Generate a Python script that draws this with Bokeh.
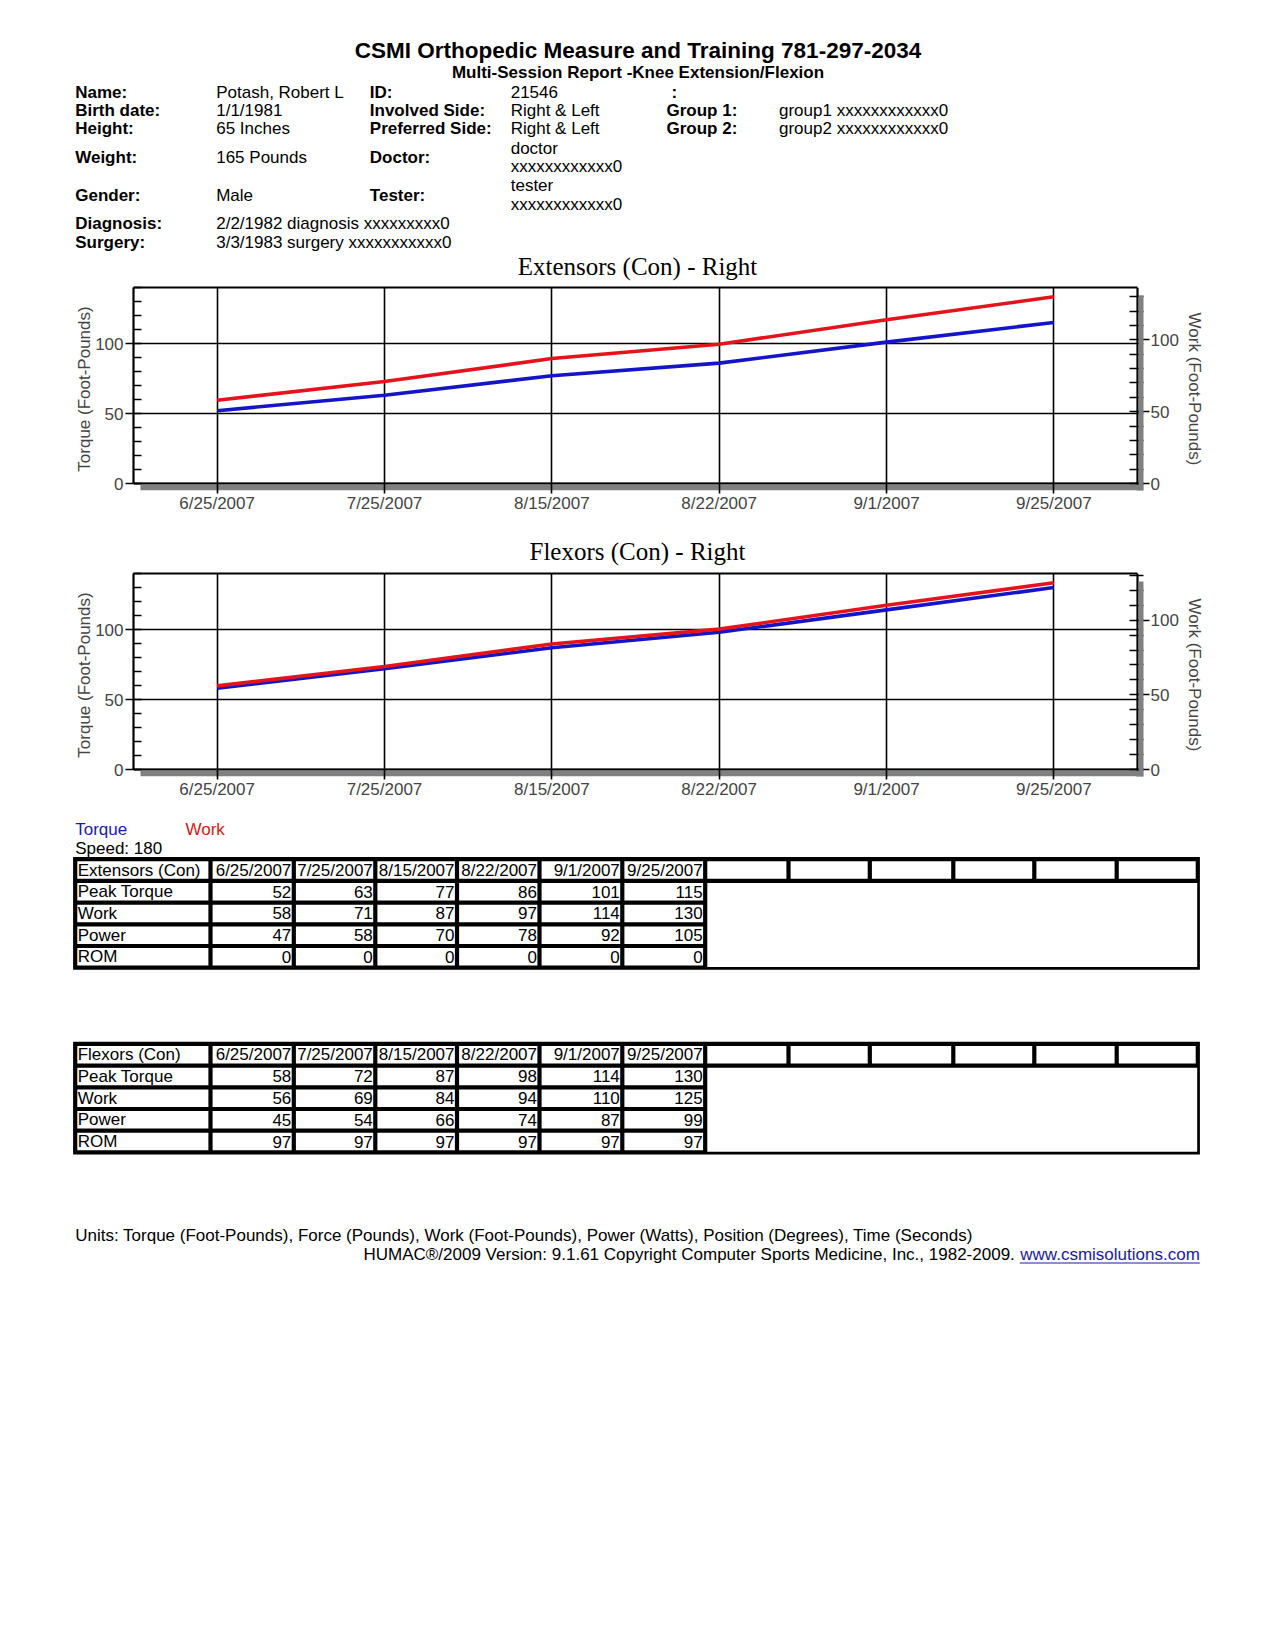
from bokeh.plotting import figure
from bokeh.models import Range1d, LinearAxis, SingleIntervalTicker, FixedTicker, Span
from bokeh.layouts import column
from bokeh.embed import file_html
from bokeh.resources import INLINE
from bokeh.core.properties import value

# ---------------- data ----------------
dates = ["6/25/2007", "7/25/2007", "8/15/2007", "8/22/2007", "9/1/2007", "9/25/2007"]
row_names = ["Peak Torque", "Work", "Power", "ROM"]

ext_peak_torque = [52, 63, 77, 86, 101, 115]
ext_work = [58, 71, 87, 97, 114, 130]
ext_power = [47, 58, 70, 78, 92, 105]
ext_rom = [0, 0, 0, 0, 0, 0]

flex_peak_torque = [58, 72, 87, 98, 114, 130]
flex_work = [56, 69, 84, 94, 110, 125]
flex_power = [45, 54, 66, 74, 87, 99]
flex_rom = [97, 97, 97, 97, 97, 97]

torque_axis_max = 140
ext_work_axis_max = 136.5
flex_work_axis_max = 131.25

# ---------------- style ----------------
W = 1259
SANS = "Liberation Sans"
SERIF = "Liberation Serif"
RED = "#e3141c"
BLUE = "#1414c8"
FS = "17px"

PW, PH = 1004, 196      # plot area (inside the axes) in px
SHX, SHY = 6, 7         # drop-shadow size in px
FW, FH = PW + SHX, PH + SHY


def make_chart(torque, work, work_max, height, top_border, bottom_border):
    n = len(dates)
    xs = list(range(n))
    x0, x1 = -0.5, n - 0.5
    xpx = (x1 - x0) / PW
    ypx = torque_axis_max / PH
    wpx = work_max / PH

    p = figure(width=W, height=height,
               x_range=Range1d(x0, x1 + SHX * xpx),
               y_range=Range1d(-SHY * ypx, torque_axis_max),
               toolbar_location=None, output_backend="svg",
               min_border_left=133, min_border_right=W - 133 - FW,
               min_border_top=top_border, min_border_bottom=bottom_border,
               frame_align=False)
    p.background_fill_color = "white"
    p.border_fill_color = "white"
    p.outline_line_color = None
    p.extra_y_ranges = {"work": Range1d(-SHY * wpx, work_max)}

    xticker = FixedTicker(ticks=xs)
    lt = SingleIntervalTicker(interval=50, num_minor_ticks=5)

    # x axis (its ticks start at y = 0 and cross the shadow)
    xa = p.xaxis[0]
    xa.ticker = xticker
    xa.major_label_overrides = {i: d for i, d in zip(xs, dates)}
    xa.axis_line_color = None
    xa.major_tick_in = SHY
    xa.major_tick_out = 3
    xa.minor_tick_line_color = None
    xa.major_tick_line_width = 1.6
    xa.major_label_text_font = SANS
    xa.major_label_text_font_size = FS
    xa.major_label_standoff = 0

    # left axis
    ya = p.yaxis[0]
    ya.ticker = lt
    ya.bounds = (0, torque_axis_max)
    ya.axis_label = "Torque (Foot-Pounds)"
    ya.axis_label_text_font = SANS
    ya.axis_label_text_font_size = FS
    ya.axis_label_text_font_style = "normal"
    ya.axis_label_standoff = -2
    ya.axis_line_width = 2.2
    ya.major_tick_out = 8
    ya.major_tick_in = 0
    ya.minor_tick_in = 8
    ya.minor_tick_out = 0
    ya.major_tick_line_width = 1.6
    ya.minor_tick_line_width = 1.6
    ya.major_label_text_font = SANS
    ya.major_label_text_font_size = FS
    ya.major_label_standoff = 2

    # right axis (ticks measured from the plot-area edge, shadow in between)
    ra = LinearAxis(y_range_name="work", ticker=SingleIntervalTicker(interval=50, num_minor_ticks=5))
    ra.bounds = (0, work_max)
    ra.axis_label = "Work (Foot-Pounds)"
    ra.axis_label_text_font = SANS
    ra.axis_label_text_font_size = FS
    ra.axis_label_text_font_style = "normal"
    ra.axis_label_standoff = 3
    ra.axis_line_color = None
    ra.major_tick_out = 6
    ra.major_tick_in = SHX
    ra.minor_tick_in = 8 + SHX
    ra.minor_tick_out = 0
    ra.major_tick_line_width = 1.6
    ra.minor_tick_line_width = 1.6
    ra.major_label_text_font = SANS
    ra.major_label_text_font_size = FS
    ra.major_label_standoff = 1
    p.add_layout(ra, "right")

    # top border line
    ta = LinearAxis(ticker=FixedTicker(ticks=[]), bounds=(x0, x1))
    ta.axis_line_width = 2.2
    ta.major_tick_out = 0
    ta.major_tick_in = 0
    ta.minor_tick_out = 0
    ta.minor_tick_in = 0
    ta.major_tick_line_color = None
    ta.minor_tick_line_color = None
    ta.major_label_standoff = 0
    ta.major_label_text_font_size = "0px"
    p.add_layout(ta, "above")

    # grids
    p.xgrid.ticker = xticker
    p.xgrid.grid_line_color = "black"
    p.xgrid.grid_line_width = 1.6
    p.ygrid.ticker = lt
    p.ygrid.grid_line_color = "black"
    p.ygrid.grid_line_width = 1.6

    # axis lines at y = 0 and at the right end of the plot area
    p.add_layout(Span(location=0, dimension="width", line_color="black", line_width=2.2, level="underlay"))
    p.add_layout(Span(location=x1, dimension="height", line_color="black", line_width=2.2, level="underlay"))

    # drop shadow of the axes
    xr_end = x1 + SHX * xpx
    yb = -SHY * ypx
    p.quad(left=[x0 + 7 * xpx], right=[xr_end], top=[-1.1 * ypx], bottom=[yb],
           fill_color="#808080", line_color=None)
    sr = p.quad(left=[x1 + 1.1 * xpx], right=[xr_end], top=[torque_axis_max - 8 * ypx], bottom=[yb],
                fill_color="#808080", line_color=None)
    sr.level = "overlay"

    p.line(x=xs, y=torque, line_color=BLUE, line_width=3.6)
    p.line(x=xs, y=work, y_range_name="work", line_color=RED, line_width=3.6)
    return p


def canvas(height):
    p = figure(width=W, height=height, x_range=Range1d(0, W), y_range=Range1d(height, 0),
               toolbar_location=None, output_backend="svg", min_border=0,
               x_axis_type=None, y_axis_type=None, frame_align=False)
    p.outline_line_color = None
    p.background_fill_color = "white"
    p.border_fill_color = "white"
    return p


def txt(p, oy, x, y, s, size=FS, bold=False, color="black", align="left", font=SANS):
    p.text(x=[x], y=[y - oy], text=[s], text_font=value(font), text_font_size=size,
           text_font_style="bold" if bold else "normal", text_color=color,
           text_align=align, text_baseline="middle")


# ---------------- header (page y 0..283) ----------------
HY = 0
header = canvas(283)
txt(header, HY, 637.5, 50.0, "CSMI Orthopedic Measure and Training 781-297-2034", size="22.5px", bold=True, align="center")
txt(header, HY, 637.5, 72.0, "Multi-Session Report -Knee Extension/Flexion", size="17px", bold=True, align="center")

c1, c2, c3, c4, c5, c6 = 74.7, 215.7, 369.3, 510.2, 666.0, 778.5
info = [
    (c1, 91.5, "Name:", True), (c2, 91.5, "Potash, Robert L", False),
    (c3, 91.5, "ID:", True), (c4, 91.5, "21546", False), (671.0, 91.5, ":", True),
    (c1, 109.5, "Birth date:", True), (c2, 109.5, "1/1/1981", False),
    (c3, 109.5, "Involved Side:", True), (c4, 109.5, "Right & Left", False),
    (c5, 109.5, "Group 1:", True), (c6, 109.5, "group1 xxxxxxxxxxxx0", False),
    (c1, 128.3, "Height:", True), (c2, 128.3, "65 Inches", False),
    (c3, 128.3, "Preferred Side:", True), (c4, 128.3, "Right & Left", False),
    (c5, 128.3, "Group 2:", True), (c6, 128.3, "group2 xxxxxxxxxxxx0", False),
    (c1, 156.7, "Weight:", True), (c2, 156.7, "165 Pounds", False),
    (c3, 156.7, "Doctor:", True), (c4, 147.5, "doctor", False), (c4, 166.3, "xxxxxxxxxxxx0", False),
    (c1, 194.6, "Gender:", True), (c2, 194.6, "Male", False),
    (c3, 194.6, "Tester:", True), (c4, 185.0, "tester", False), (c4, 204.0, "xxxxxxxxxxxx0", False),
    (c1, 223.0, "Diagnosis:", True), (c2, 223.0, "2/2/1982 diagnosis xxxxxxxxx0", False),
    (c1, 241.5, "Surgery:", True), (c2, 241.5, "3/3/1983 surgery xxxxxxxxxxx0", False),
]
for x, y, s, b in info:
    txt(header, HY, x, y, s, bold=b)

txt(header, HY, 637.0, 266.0, "Extensors (Con) - Right", size="25px", font=SERIF, align="center")

# ---------------- chart 1 (page y 283..530) ----------------
chart1 = make_chart(ext_peak_torque, ext_work, ext_work_axis_max,
                    height=247, top_border=4, bottom_border=247 - 4 - FH)

# ---------------- title of chart 2 (page y 530..569) ----------------
MY = 530
mid = canvas(39)
txt(mid, MY, 637.0, 551.0, "Flexors (Con) - Right", size="25px", font=SERIF, align="center")

# ---------------- chart 2 (page y 569..808) ----------------
chart2 = make_chart(flex_peak_torque, flex_work, flex_work_axis_max,
                    height=239, top_border=4, bottom_border=239 - 4 - FH)

# ---------------- bottom: legend, tables, footer (page y 808..1300) ----------------
BY = 808
bottom = canvas(492)
txt(bottom, BY, 74.7, 829, "Torque", color="#1c1ca8")
txt(bottom, BY, 185.0, 829, "Work", color="#d01818")
txt(bottom, BY, 74.7, 848, "Speed: 180")

col_edges = [74.7, 210.0, 293.3, 374.8, 456.5, 539.0, 621.8, 704.7]
empty_edges = [704.7, 788.0, 869.3, 952.8, 1033.8, 1116.2, 1197.3]


def draw_table(p, oy, top, title, rows):
    pitch = 21.7
    redges = [top + i * pitch for i in range(6)]
    bot = redges[-1]
    h = 2.1
    L, R, T, B = [], [], [], []

    def box(l, r, t, b):
        L.append(l); R.append(r); T.append(t - oy); B.append(b - oy)

    p.quad(left=[col_edges[0] - h], right=[empty_edges[-1] + h],
           top=[top - h - oy], bottom=[bot + h - oy], fill_color="black", line_color=None)
    for r in range(5):
        for c in range(7):
            box(col_edges[c] + h, col_edges[c + 1] - h, redges[r] + h, redges[r + 1] - h)
    for c in range(6):
        box(empty_edges[c] + h, empty_edges[c + 1] - h, redges[0] + h, redges[1] - h)
    box(empty_edges[0] + h, empty_edges[-1] - 0.6, redges[1] + h, bot - 0.6)
    p.quad(left=L, right=R, top=T, bottom=B, fill_color="white", line_color=None)

    header_cells = [title] + dates
    yc = (redges[0] + redges[1]) / 2
    for c, s in enumerate(header_cells):
        if c == 0:
            txt(p, oy, col_edges[0] + 2.5, yc, s)
        else:
            txt(p, oy, col_edges[c + 1] - 2.5, yc, s, align="right")
    for r, (name, vals) in enumerate(rows):
        yc = (redges[r + 1] + redges[r + 2]) / 2
        txt(p, oy, col_edges[0] + 2.5, yc, name)
        for c, v in enumerate(vals):
            txt(p, oy, col_edges[c + 2] - 2.5, yc, str(v), align="right")


draw_table(bottom, BY, 858.7, "Extensors (Con)",
           list(zip(row_names, [ext_peak_torque, ext_work, ext_power, ext_rom])))
draw_table(bottom, BY, 1043.4, "Flexors (Con)",
           list(zip(row_names, [flex_peak_torque, flex_work, flex_power, flex_rom])))

txt(bottom, BY, 74.7, 1235, "Units: Torque (Foot-Pounds), Force (Pounds), Work (Foot-Pounds), Power (Watts), Position (Degrees), Time (Seconds)")
txt(bottom, BY, 363.0, 1254, "HUMAC\u00ae/2009 Version: 9.1.61 Copyright Computer Sports Medicine, Inc., 1982-2009.")
txt(bottom, BY, 1199.3, 1254, "www.csmisolutions.com", color="#1a1aa0", align="right")
bottom.segment(x0=[1199.3 - 180], x1=[1199.3], y0=[1262.5 - BY], y1=[1262.5 - BY],
               line_color="#1a1aa0", line_width=1)

layout = column(header, chart1, mid, chart2, bottom, spacing=0)
open("out.html", "w").write(file_html(layout, INLINE))
